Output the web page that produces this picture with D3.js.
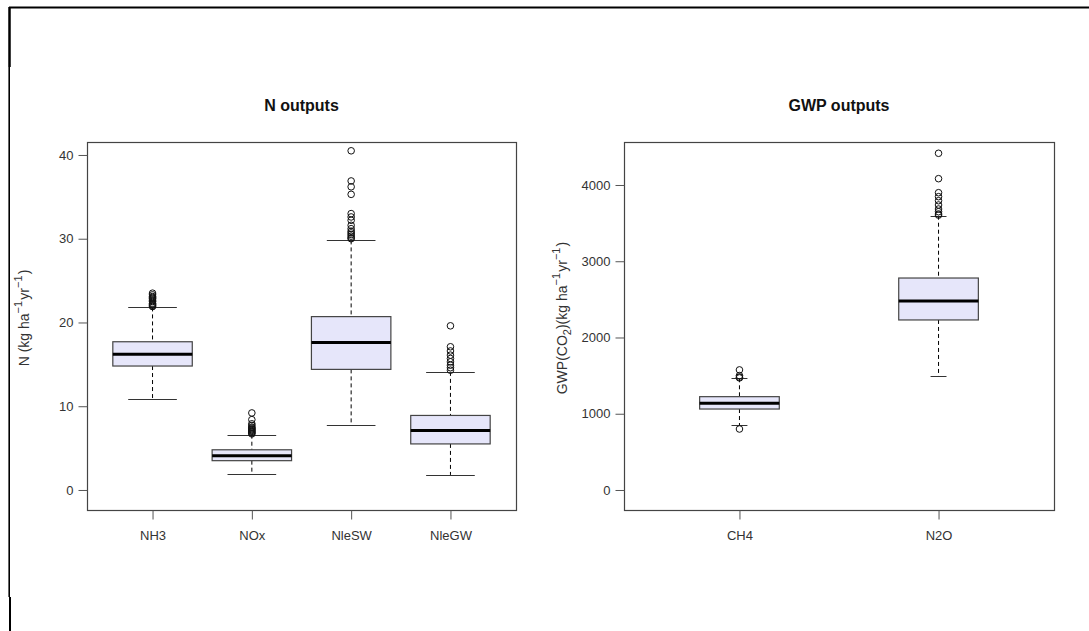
<!DOCTYPE html>
<html>
<head>
<meta charset="utf-8">
<script src="https://cdn.jsdelivr.net/npm/d3@7"></script>
<style>
  html, body { margin: 0; padding: 0; background: #fff; }
  svg { display: block; font-family: "Liberation Sans", Arial, sans-serif; }
  .tick text { fill: #333; font-size: 13px; }
  .tick line { stroke: #555; }
</style>
</head>
<body>
<svg id="chart" width="1089" height="631"></svg>
<script>
// ---- N outputs (kg N per ha per year) ----
const nCategories = ["NH3", "NOx", "NleSW", "NleGW"];
const nLowerWhisker = [10.9, 1.9, 7.8, 1.8];
const nQ1           = [14.8, 3.5, 14.4, 5.5];
const nMedian       = [16.2, 4.1, 17.6, 7.1];
const nQ3           = [17.7, 4.8, 20.7, 8.9];
const nUpperWhisker = [21.8, 6.6, 29.8, 14.1];
const nOutliers = [
  [21.9, 22.0, 22.1, 22.2, 22.3, 22.5, 22.6, 22.8, 22.9, 23.0, 23.1, 23.3, 23.5],
  [6.7, 6.8, 6.9, 7.0, 7.1, 7.2, 7.3, 7.4, 7.5, 7.7, 7.9, 8.4, 9.2],
  [30.0, 30.1, 30.3, 30.5, 30.7, 30.9, 31.2, 31.6, 32.2, 32.6, 33.0, 35.3, 36.2, 36.9, 40.5],
  [14.3, 14.6, 14.9, 15.3, 15.7, 16.1, 16.6, 17.1, 19.6]
];
const nTicks = [0, 10, 20, 30, 40];

// ---- GWP outputs (kg CO2-eq per ha per year) ----
const gCategories = ["CH4", "N2O"];
const gLowerWhisker = [852, 1495];
const gQ1           = [1062, 2230];
const gMedian       = [1137, 2479];
const gQ3           = [1224, 2780];
const gUpperWhisker = [1465, 3597];
const gOutliers = [
  [800, 1470, 1480, 1500, 1575],
  [3605, 3620, 3650, 3685, 3738, 3794, 3847, 3899, 4083, 4416]
];
const gTicks = [0, 1000, 2000, 3000, 4000];

const svg = d3.select("#chart");

// outer frame lines
const frame = svg.append("g").attr("stroke", "#000").attr("fill", "none");
frame.append("line").attr("x1", 9).attr("x2", 1089).attr("y1", 7.5).attr("y2", 7.5).attr("stroke-width", 2);
frame.append("line").attr("x1", 9.5).attr("x2", 9.5).attr("y1", 7).attr("y2", 67).attr("stroke-width", 2.5);
frame.append("line").attr("x1", 9.2).attr("x2", 9.2).attr("y1", 67).attr("y2", 597).attr("stroke-width", 1.6);
frame.append("line").attr("x1", 10).attr("x2", 10).attr("y1", 597).attr("y2", 631).attr("stroke-width", 2);

function panel(opts) {
  const { cats, lo, q1, med, q3, hi, outl, ticks, yDomain, left, right, top, bottom,
          title, boxHalf, stapleHalf, yLabel, yLabelX } = opts;
  const n = cats.length;
  const pad = n * 0.04;
  const x = d3.scaleLinear().domain([0.5 - pad, n + 0.5 + pad]).range([left, right]);
  const y = d3.scaleLinear().domain(yDomain).range([bottom, top]);
  const g = svg.append("g");

  // title
  g.append("text")
    .attr("x", (left + right) / 2).attr("y", 111)
    .attr("text-anchor", "middle")
    .attr("font-weight", "bold").attr("font-size", 16).attr("fill", "#111")
    .text(title);

  const boxes = g.selectAll(".bx").data(cats.map((c, i) => ({ c, i }))).join("g").attr("class", "bx");

  // whiskers (dashed)
  boxes.append("line")
    .attr("x1", d => x(d.i + 1)).attr("x2", d => x(d.i + 1))
    .attr("y1", d => y(hi[d.i])).attr("y2", d => y(q3[d.i]))
    .attr("stroke", "#000").attr("stroke-dasharray", "4,3");
  boxes.append("line")
    .attr("x1", d => x(d.i + 1)).attr("x2", d => x(d.i + 1))
    .attr("y1", d => y(q1[d.i])).attr("y2", d => y(lo[d.i]))
    .attr("stroke", "#000").attr("stroke-dasharray", "4,3");

  // staples
  [hi, lo].forEach(arr => {
    boxes.append("line")
      .attr("x1", d => x(d.i + 1 - stapleHalf)).attr("x2", d => x(d.i + 1 + stapleHalf))
      .attr("y1", d => Math.round(y(arr[d.i])) + 0.5).attr("y2", d => Math.round(y(arr[d.i])) + 0.5)
      .attr("stroke", "#333");
  });

  // boxes
  boxes.append("rect")
    .attr("x", d => x(d.i + 1 - boxHalf)).attr("width", d => x(d.i + 1 + boxHalf) - x(d.i + 1 - boxHalf))
    .attr("y", d => y(q3[d.i])).attr("height", d => y(q1[d.i]) - y(q3[d.i]))
    .attr("fill", "#E6E6FA").attr("stroke", "#444").attr("stroke-width", 1.2);

  // medians
  boxes.append("line")
    .attr("x1", d => x(d.i + 1 - boxHalf)).attr("x2", d => x(d.i + 1 + boxHalf))
    .attr("y1", d => y(med[d.i])).attr("y2", d => y(med[d.i]))
    .attr("stroke", "#000").attr("stroke-width", 3);

  // outliers
  boxes.selectAll("circle").data(d => outl[d.i].map(v => ({ v, i: d.i }))).join("circle")
    .attr("cx", d => x(d.i + 1)).attr("cy", d => y(d.v)).attr("r", 3.3)
    .attr("fill", "none").attr("stroke", "#111").attr("stroke-width", 1);

  // plot frame
  g.append("rect")
    .attr("x", left + 0.5).attr("y", top + 0.5)
    .attr("width", right - left).attr("height", bottom - top)
    .attr("fill", "none").attr("stroke", "#444").attr("stroke-width", 1.2);

  // y axis
  const ya = g.append("g").attr("transform", `translate(${left + 0.5},0)`)
    .call(d3.axisLeft(y).tickValues(ticks).tickSize(9).tickPadding(5).tickFormat(d3.format("d")));
  ya.select(".domain").remove();

  // x axis
  const xa = g.append("g").attr("transform", `translate(0,${bottom + 0.5})`)
    .call(d3.axisBottom(x).tickValues(d3.range(1, n + 1)).tickSize(9).tickPadding(11)
      .tickFormat(d => cats[d - 1]));
  xa.select(".domain").remove();

  // y label
  const t = g.append("text")
    .attr("transform", `translate(${yLabelX},${(top + bottom) / 2 - 8}) rotate(-90)`)
    .attr("text-anchor", "middle").attr("font-size", 14).attr("fill", "#333");
  yLabel(t);
}

function sup(t, s) {
  t.append("tspan").attr("dy", -7).attr("font-size", 11).text(s);
  t.append("tspan").attr("dy", 7).text("\u200A");
}

panel({
  cats: nCategories, lo: nLowerWhisker, q1: nQ1, med: nMedian, q3: nQ3, hi: nUpperWhisker,
  outl: nOutliers, ticks: nTicks, yDomain: [-2.39, 41.55],
  left: 87, right: 516, top: 142, bottom: 510,
  title: "N outputs", boxHalf: 0.4, stapleHalf: 0.245, yLabelX: 29,
  yLabel: t => {
    t.append("tspan").text("N (kg ha");
    sup(t, "\u22121");
    t.append("tspan").text("yr");
    sup(t, "\u22121");
    t.append("tspan").text(")");
  }
});

panel({
  cats: gCategories, lo: gLowerWhisker, q1: gQ1, med: gMedian, q3: gQ3, hi: gUpperWhisker,
  outl: gOutliers, ticks: gTicks, yDomain: [-262.3, 4563.9],
  left: 624, right: 1054, top: 142, bottom: 510,
  title: "GWP outputs", boxHalf: 0.2, stapleHalf: 0.04, yLabelX: 567,
  yLabel: t => {
    t.append("tspan").text("GWP(CO");
    t.append("tspan").attr("dy", 4).attr("font-size", 11).text("2");
    t.append("tspan").attr("dy", -4).text(")(kg ha");
    sup(t, "\u22121");
    t.append("tspan").text("yr");
    sup(t, "\u22121");
    t.append("tspan").text(")");
  }
});
</script>
</body>
</html>
